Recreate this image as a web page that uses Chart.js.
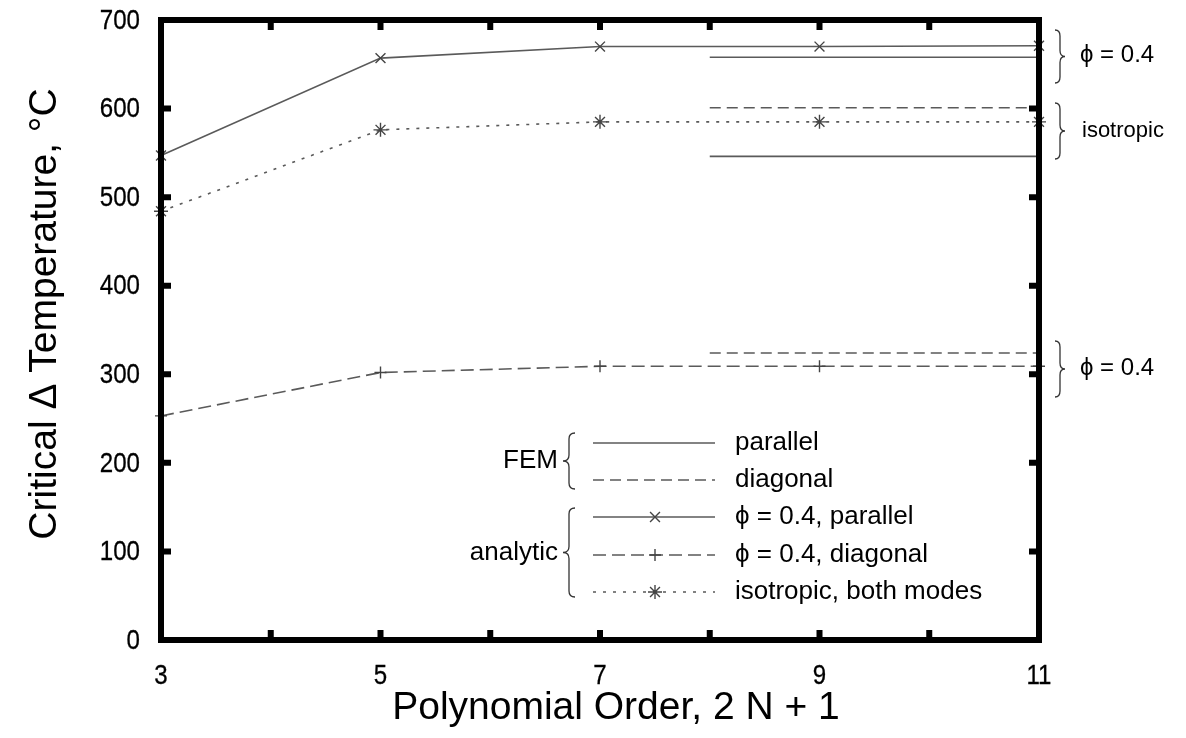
<!DOCTYPE html>
<html>
<head>
<meta charset="utf-8">
<title>Critical temperature vs polynomial order</title>
<script src="https://cdn.jsdelivr.net/npm/chart.js@4.4.1/dist/chart.umd.min.js"></script>
<style>
  html, body { margin: 0; padding: 0; background: #fff; }
  #chart { display: block; }
</style>
</head>
<body>
<canvas id="chart" width="1186" height="738"></canvas>
<script>
// polynomial orders (2N+1) and the analytic curves
const orders = [3, 5, 7, 9, 11];
const phiParallel = [547, 657, 670, 670, 671];
const phiDiagonal = [253, 302, 309, 309, 309];
const isotropicBoth = [484, 576, 585, 585, 585];

// FEM reference levels, drawn as flat segments over 8..11
const femOrders = [8, 11];
const femParallelPhi = [658, 658];
const femParallelIso = [546, 546];
const femDiagonalPhi = [324, 324];
const femDiagonalIso = [601, 601];

const xTickLabels = [3, 5, 7, 9, 11];
const yTickStep = 100;

const FONT = "'Liberation Sans', Arial, Helvetica, sans-serif";
const LINE = '#5a5a5a';
const MARK = '#444';
const NARROW_K = 0.86;   // tick numbers are set slightly condensed

const PHI = '\u03D5';

function pts(xs, ys) {
  return xs.map((x, i) => ({ x: x, y: ys[i] }));
}

function femSet(label, values, dash) {
  return {
    label: label,
    data: pts(femOrders, values),
    borderColor: LINE,
    borderWidth: 1.6,
    borderDash: dash,
    pointRadius: 0,
    fill: false,
    clip: false
  };
}

function analyticSet(label, values, dash, style, radius) {
  return {
    label: label,
    data: pts(orders, values),
    borderColor: LINE,
    borderWidth: 1.6,
    borderDash: dash,
    pointStyle: style,
    pointRadius: radius,
    pointBorderColor: MARK,
    pointBorderWidth: 1.4,
    pointBackgroundColor: MARK,
    fill: false,
    clip: false
  };
}

const DASH_FEM_DIAG = [11, 6];
const DASH_AN_DIAG = [13, 6];
const DOTS = [3, 7];

// curly brace; dir = 1 points right "}", -1 points left "{"
function brace(ctx, x, y1, y2, dir, w) {
  const mid = (y1 + y2) / 2;
  const h = w / 2 * dir;
  const r = 6;
  ctx.beginPath();
  ctx.moveTo(x, y1);
  ctx.quadraticCurveTo(x + h, y1, x + h, y1 + r);
  ctx.lineTo(x + h, mid - r);
  ctx.quadraticCurveTo(x + h, mid, x + 2 * h, mid);
  ctx.quadraticCurveTo(x + h, mid, x + h, mid + r);
  ctx.lineTo(x + h, y2 - r);
  ctx.quadraticCurveTo(x + h, y2, x, y2);
  ctx.stroke();
}

function narrowText(ctx, text, x, y, align) {
  ctx.save();
  ctx.translate(x, y);
  ctx.scale(NARROW_K, 1);
  ctx.textAlign = align;
  ctx.textBaseline = 'middle';
  ctx.fillText(text, 0, 0);
  ctx.lineWidth = 0.3;
  ctx.strokeText(text, 0, 0);
  ctx.restore();
}

const framePlugin = {
  id: 'frame',
  afterDatasetsDraw(chart) {
    const { ctx, chartArea: a, scales } = chart;
    const xs = scales.x, ys = scales.y;
    ctx.save();
    ctx.strokeStyle = '#000';
    ctx.lineWidth = 6;
    ctx.lineCap = 'butt';
    ctx.strokeRect(a.left, a.top, a.right - a.left, a.bottom - a.top);
    const len = 10;
    ctx.beginPath();
    for (let v = xs.min + 1; v < xs.max; v++) {
      const px = xs.getPixelForValue(v);
      ctx.moveTo(px, a.bottom); ctx.lineTo(px, a.bottom - len);
      ctx.moveTo(px, a.top); ctx.lineTo(px, a.top + len);
    }
    for (let v = ys.min + yTickStep; v < ys.max; v += yTickStep) {
      const py = ys.getPixelForValue(v);
      ctx.moveTo(a.left, py); ctx.lineTo(a.left + len, py);
      ctx.moveTo(a.right, py); ctx.lineTo(a.right - len, py);
    }
    ctx.stroke();

    // tick numbers from the scales' own tick lists
    ctx.fillStyle = '#000';
    ctx.font = '28px ' + FONT;
    xs.ticks.forEach(t => {
      if (xTickLabels.includes(t.value)) {
        narrowText(ctx, String(t.value), xs.getPixelForValue(t.value), a.bottom + 36, 'center');
      }
    });
    ys.ticks.forEach(t => {
      narrowText(ctx, String(t.value), a.left - 21, ys.getPixelForValue(t.value) + 1, 'right');
    });
    ctx.restore();
  }
};

const notesPlugin = {
  id: 'notes',
  afterDraw(chart) {
    const ctx = chart.ctx;
    ctx.save();
    ctx.fillStyle = '#000';

    // axis titles
    ctx.font = '39px ' + FONT;
    ctx.textAlign = 'center';
    ctx.textBaseline = 'middle';
    ctx.fillText('Polynomial Order, 2 N + 1', 616, 708);
    ctx.save();
    ctx.translate(45, 314);
    ctx.rotate(-Math.PI / 2);
    ctx.fillText('Critical \u0394 Temperature, \u00B0C', 0, 0);
    ctx.restore();

    // right-hand group labels
    ctx.strokeStyle = '#333';
    ctx.lineWidth = 1.3;
    brace(ctx, 1055, 30, 83, 1, 10);
    brace(ctx, 1055, 103, 159, 1, 10);
    brace(ctx, 1055, 341, 397, 1, 10);
    ctx.font = '24px ' + FONT;
    ctx.textAlign = 'left';
    ctx.fillText(PHI + ' = 0.4', 1080, 55);
    ctx.fillText(PHI + ' = 0.4', 1080, 368);
    ctx.font = '22px ' + FONT;
    ctx.fillText('isotropic', 1082, 131);

    // legend
    const rows = [443, 480, 517, 555, 592];
    const x0 = 593, x1 = 715, xm = 655;
    const entries = [
      { text: 'parallel', dash: [] },
      { text: 'diagonal', dash: DASH_FEM_DIAG },
      { text: PHI + ' = 0.4, parallel', dash: [], style: 'crossRot', r: 7 },
      { text: PHI + ' = 0.4, diagonal', dash: DASH_AN_DIAG, style: 'cross', r: 6 },
      { text: 'isotropic, both modes', dash: DOTS, style: 'star', r: 7 }
    ];
    ctx.font = '26px ' + FONT;
    entries.forEach((e, i) => {
      const y = rows[i];
      ctx.save();
      ctx.strokeStyle = LINE;
      ctx.lineWidth = 1.6;
      ctx.setLineDash(e.dash);
      ctx.beginPath();
      ctx.moveTo(x0, y); ctx.lineTo(x1, y);
      ctx.stroke();
      ctx.restore();
      if (e.style) {
        ctx.save();
        ctx.strokeStyle = MARK;
        ctx.fillStyle = MARK;
        ctx.lineWidth = 1.4;
        Chart.helpers.drawPoint(ctx, { pointStyle: e.style, radius: e.r, rotation: 0, borderWidth: 1.4 }, xm, y);
        ctx.restore();
      }
      ctx.fillStyle = '#000';
      ctx.textAlign = 'left';
      ctx.fillText(e.text, 735, y);
    });
    ctx.strokeStyle = '#333';
    ctx.lineWidth = 1.3;
    brace(ctx, 575, 433, 489, -1, 12);
    brace(ctx, 575, 508, 597, -1, 12);
    ctx.textAlign = 'right';
    ctx.fillText('FEM', 558, 461);
    ctx.fillText('analytic', 558, 553);
    ctx.restore();
  }
};

new Chart(document.getElementById('chart'), {
  type: 'line',
  data: {
    datasets: [
      femSet('FEM parallel, \u03D5 = 0.4', femParallelPhi, []),
      femSet('FEM parallel, isotropic', femParallelIso, []),
      femSet('FEM diagonal, \u03D5 = 0.4', femDiagonalPhi, DASH_FEM_DIAG),
      femSet('FEM diagonal, isotropic', femDiagonalIso, DASH_FEM_DIAG),
      analyticSet('\u03D5 = 0.4, parallel', phiParallel, [], 'crossRot', 7),
      analyticSet('\u03D5 = 0.4, diagonal', phiDiagonal, DASH_AN_DIAG, 'cross', 6),
      analyticSet('isotropic, both modes', isotropicBoth, DOTS, 'star', 7)
    ]
  },
  options: {
    responsive: false,
    devicePixelRatio: 1,
    animation: false,
    events: [],
    layout: { padding: { top: 20, right: 147, bottom: 0, left: 0 } },
    plugins: {
      legend: { display: false },
      tooltip: { enabled: false }
    },
    elements: { line: { tension: 0 } },
    scales: {
      x: {
        type: 'linear',
        min: 3,
        max: 11,
        grid: { display: false, drawTicks: false },
        border: { display: false },
        ticks: { stepSize: 1, autoSkip: false, display: false },
        afterFit: s => { s.height = 98; }
      },
      y: {
        min: 0,
        max: 700,
        grid: { display: false, drawTicks: false },
        border: { display: false },
        ticks: { stepSize: yTickStep, display: false },
        afterFit: s => { s.width = 161; }
      }
    }
  },
  plugins: [framePlugin, notesPlugin]
});
</script>
</body>
</html>
